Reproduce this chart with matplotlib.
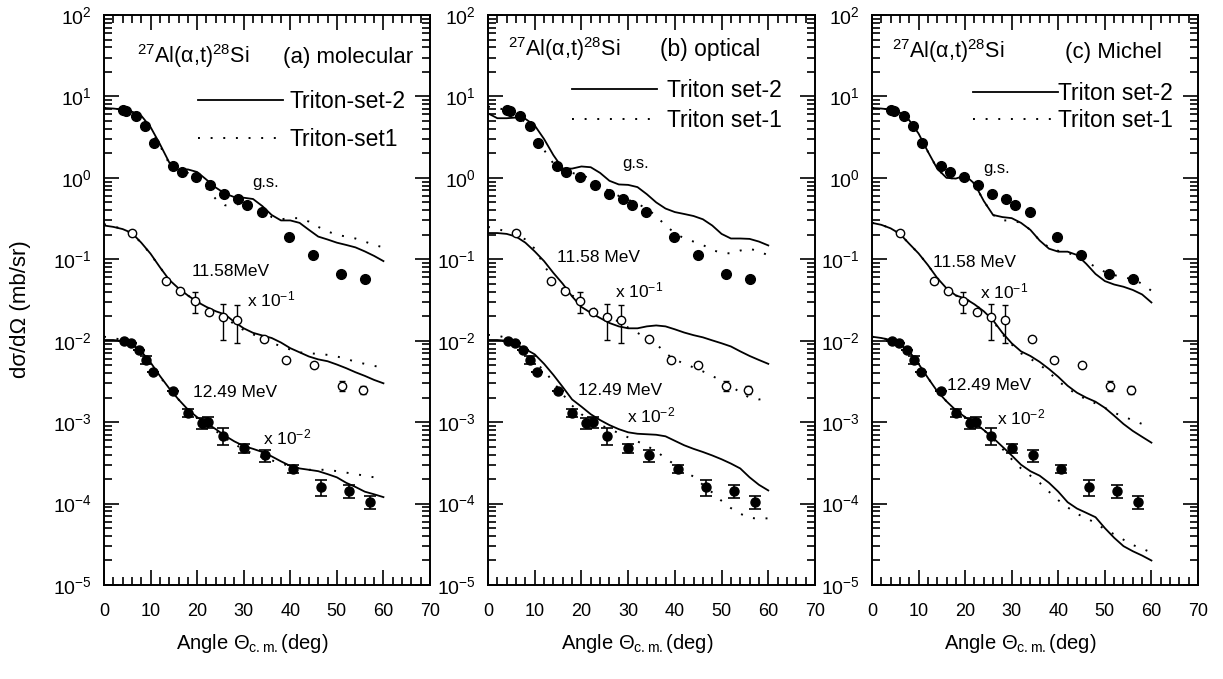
import matplotlib
matplotlib.use("Agg")
import matplotlib.pyplot as plt
from matplotlib.ticker import MultipleLocator, LogLocator, NullFormatter
from matplotlib.lines import Line2D

plt.rcParams['font.family'] = ['Liberation Sans', 'DejaVu Sans']
plt.rcParams['mathtext.fontset'] = 'custom'
plt.rcParams['mathtext.rm'] = 'Liberation Sans'
plt.rcParams['mathtext.it'] = 'Liberation Sans:italic'
plt.rcParams['mathtext.bf'] = 'Liberation Sans:bold'
plt.rcParams['mathtext.sf'] = 'Liberation Sans'

# ---------------- experimental data ----------------
gs_ang = [4.0, 4.8, 6.9, 8.9, 10.8, 14.8, 16.8, 19.8, 22.8, 25.8, 28.8, 30.8, 33.9, 39.8, 44.9, 50.9, 56.0]
gs_val = [6.9, 6.7, 5.8, 4.3, 2.65, 1.40, 1.17, 1.02, 0.81, 0.63, 0.55, 0.47, 0.38, 0.19, 0.114, 0.066, 0.058]

e1158_ang = [6.0, 13.4, 16.4, 19.6, 22.5, 25.5, 28.5, 34.4, 39.1, 45.0, 51.0, 55.6]
e1158_val = [0.21, 0.054, 0.041, 0.031, 0.0223, 0.0195, 0.018, 0.0106, 0.0058, 0.0051, 0.0028, 0.0025]
e1158_lo = [0, 0, 0, 0.009, 0, 0.0093, 0.0087, 0, 0, 0, 0.0004, 0.0003]
e1158_hi = [0, 0, 0, 0.009, 0, 0.0085, 0.0095, 0, 0, 0, 0.0004, 0.0003]

e1249_ang = [4.3, 5.8, 7.5, 9.0, 10.5, 14.9, 18.0, 21.0, 22.4, 25.5, 30.0, 34.5, 40.6, 46.6, 52.6, 57.1]
e1249_val = [0.0100, 0.0093, 0.0078, 0.0058, 0.0041, 0.0024, 0.0013, 0.00098, 0.0010, 0.00068,
             0.00048, 0.00039, 0.000266, 0.000158, 0.000142, 0.000105]
e1249_err = [0, 0, 0, 0.0006, 0, 0, 0.00013, 0.00015, 0.00015, 0.00016,
             0.00006, 0.00007, 0.00003, 0.000035, 0.000025, 0.00002]

# ---------------- calculated curves ----------------
curve_ang = [0, 2, 4, 6, 8, 10, 12, 14, 16, 18, 20, 22, 24, 26, 28, 30,
             32, 34, 36, 38, 40, 42, 44, 46, 48, 50, 52, 54, 56, 58, 60]

# (a) molecular
a_gs_set2 = [7.2, 7.1, 6.9, 6.5, 5.8, 4.2, 2.6, 1.55, 1.25, 1.27, 1.18, 0.95, 0.76, 0.64, 0.58, 0.57,
             0.55, 0.45, 0.35, 0.30, 0.30, 0.28, 0.23, 0.19, 0.175, 0.16, 0.15, 0.14, 0.125, 0.11, 0.095]
a_gs_set1 = [7.2, 7.1, 6.9, 6.4, 5.6, 4.0, 2.5, 1.5, 1.2, 1.15, 1.0, 0.75, 0.55, 0.46, 0.46, 0.50,
             0.48, 0.40, 0.33, 0.31, 0.32, 0.32, 0.29, 0.25, 0.22, 0.20, 0.19, 0.18, 0.165, 0.15, 0.14]
a_1158_set2 = [0.26, 0.25, 0.235, 0.21, 0.16, 0.117, 0.08, 0.056, 0.044, 0.036, 0.030, 0.026, 0.023, 0.021, 0.017, 0.0142,
               0.0125, 0.0116, 0.0108, 0.0095, 0.0081, 0.0072, 0.0064, 0.0059, 0.0056, 0.0051, 0.0046, 0.0041, 0.0037, 0.0033, 0.0030]
a_1158_set1 = [0.27, 0.255, 0.235, 0.205, 0.16, 0.115, 0.08, 0.056, 0.044, 0.036, 0.030, 0.026, 0.022, 0.019, 0.016, 0.0135,
               0.012, 0.0105, 0.0095, 0.0085, 0.0078, 0.0072, 0.0070, 0.0069, 0.0067, 0.0064, 0.006, 0.0055, 0.0052, 0.0049, 0.0047]
a_1249_set2 = [0.0102, 0.0102, 0.0099, 0.0090, 0.0074, 0.0054, 0.0037, 0.0026, 0.0019, 0.00143, 0.00115, 0.00097, 0.00082, 0.00068, 0.00058, 0.00051,
               0.00047, 0.00043, 0.00038, 0.00033, 0.00029, 0.00027, 0.00026, 0.00025, 0.00023, 0.00021, 0.00018, 0.00016, 0.00014, 0.00013, 0.00012]
a_1249_set1 = [0.0112, 0.0108, 0.0102, 0.0090, 0.0073, 0.0053, 0.0036, 0.0026, 0.0019, 0.00142, 0.00112, 0.00094, 0.00078, 0.00064, 0.00054, 0.00046,
               0.00041, 0.00037, 0.00034, 0.00031, 0.00029, 0.00027, 0.00026, 0.00026, 0.00026, 0.00025, 0.00024, 0.00023, 0.00022, 0.00021, 0.0002]

# (b) optical
b_gs_set2 = [6.2, 5.4, 5.4, 5.5, 5.3, 4.4, 3.0, 1.9, 1.3, 1.3, 1.38, 1.35, 1.15, 0.92, 0.83, 0.82,
             0.77, 0.63, 0.50, 0.42, 0.38, 0.36, 0.34, 0.31, 0.26, 0.205, 0.18, 0.18, 0.178, 0.165, 0.148]
b_gs_set1 = [7.5, 7.2, 6.8, 6.0, 4.8, 3.4, 2.2, 1.5, 1.2, 1.15, 1.08, 0.98, 0.82, 0.68, 0.60, 0.54,
             0.48, 0.42, 0.34, 0.26, 0.21, 0.18, 0.165, 0.15, 0.13, 0.12, 0.118, 0.128, 0.135, 0.125, 0.112]
b_1158_set2 = [0.21, 0.21, 0.205, 0.19, 0.16, 0.125, 0.095, 0.068, 0.05, 0.035, 0.026, 0.022, 0.019, 0.0165, 0.015, 0.0142,
               0.0142, 0.015, 0.0154, 0.015, 0.0138, 0.0126, 0.0117, 0.011, 0.0101, 0.0093, 0.0085, 0.0074, 0.0065, 0.0058, 0.0052]
b_1158_set1 = [0.25, 0.235, 0.22, 0.205, 0.175, 0.135, 0.085, 0.055, 0.043, 0.036, 0.031, 0.026, 0.023, 0.020, 0.017, 0.0145,
               0.0125, 0.0107, 0.0092, 0.0070, 0.0059, 0.0052, 0.0047, 0.0042, 0.0037, 0.0032, 0.0028, 0.0023, 0.0020, 0.0019, 0.00195]
b_1249_set2 = [0.0102, 0.0102, 0.0100, 0.0090, 0.0079, 0.0068, 0.0052, 0.0038, 0.0027, 0.0019, 0.00155, 0.00125, 0.00106, 0.00092, 0.00082, 0.00075,
               0.00072, 0.00071, 0.0007, 0.00067, 0.00059, 0.00052, 0.00047, 0.00043, 0.00039, 0.00035, 0.00031, 0.00027, 0.00021, 0.00017, 0.000145]
b_1249_set1 = [0.0118, 0.0116, 0.0108, 0.0093, 0.0073, 0.0055, 0.0043, 0.0031, 0.0022, 0.0016, 0.00125, 0.00105, 0.00092, 0.00083, 0.00073, 0.00065,
               0.00058, 0.00051, 0.00044, 0.00036, 0.00030, 0.00025, 0.000214, 0.00017, 0.000137, 0.000108, 0.000088, 0.000075, 0.000067, 0.000065, 0.000066]

# (c) Michel
c_gs_set2 = [7.2, 7.1, 6.9, 6.3, 5.1, 3.5, 2.1, 1.3, 1.0, 0.98, 1.07, 0.85, 0.52, 0.35, 0.33, 0.32,
             0.28, 0.23, 0.17, 0.135, 0.124, 0.124, 0.113, 0.088, 0.066, 0.054, 0.049, 0.046, 0.042, 0.037, 0.0295]
c_gs_set1 = [7.2, 7.1, 6.9, 6.3, 5.1, 3.5, 2.1, 1.3, 1.0, 0.98, 1.05, 0.84, 0.52, 0.35, 0.30, 0.30,
             0.28, 0.23, 0.17, 0.14, 0.127, 0.12, 0.11, 0.095, 0.08, 0.07, 0.064, 0.06, 0.057, 0.05, 0.041]
c_1158_set2 = [0.28, 0.265, 0.24, 0.205, 0.155, 0.118, 0.085, 0.059, 0.044, 0.036, 0.033, 0.028, 0.023, 0.0178, 0.0125, 0.0093,
               0.0074, 0.0065, 0.0055, 0.0045, 0.0036, 0.0028, 0.0023, 0.0020, 0.00178, 0.0015, 0.0012, 0.00095, 0.00078, 0.00066, 0.00056]
c_1158_set1 = [0.28, 0.265, 0.24, 0.205, 0.155, 0.118, 0.085, 0.059, 0.044, 0.036, 0.033, 0.028, 0.023, 0.0175, 0.012, 0.0090,
               0.0070, 0.0060, 0.0051, 0.0041, 0.0032, 0.0026, 0.0022, 0.0019, 0.0017, 0.0015, 0.0013, 0.00118, 0.00105, 0.00095, 0.00086]
c_1249_set2 = [0.0112, 0.0108, 0.0102, 0.0090, 0.0074, 0.0052, 0.0035, 0.0024, 0.0018, 0.0014, 0.00115, 0.00098, 0.0008, 0.00064, 0.0005, 0.00039,
               0.0003, 0.00025, 0.00022, 0.00018, 0.00014, 0.000104, 0.000087, 0.000077, 0.000068, 0.00005, 0.000038, 0.00003, 0.000026, 0.000023, 0.00002]
c_1249_set1 = [0.0112, 0.0108, 0.0102, 0.0090, 0.0074, 0.0052, 0.0035, 0.0024, 0.0018, 0.0014, 0.00115, 0.00098, 0.0008, 0.00062, 0.00047, 0.00035,
               0.00027, 0.00022, 0.00018, 0.00014, 0.00011, 0.00009, 0.000075, 0.000066, 0.000058, 0.000048, 0.000042, 0.000036, 0.000031, 0.000028, 0.000025]

panel_titles = ["(a) molecular", "(b) optical", "(c) Michel"]
legend_labels = [["Triton-set-2", "Triton-set1"],
                 ["Triton set-2", "Triton set-1"],
                 ["Triton set-2", "Triton set-1"]]
reaction = r"$^{27}$Al(α,t)$^{28}$Si"
x_ticks = [0, 10, 20, 30, 40, 50, 60, 70]

panels = [
    (a_gs_set2, a_gs_set1, a_1158_set2, a_1158_set1, a_1249_set2, a_1249_set1),
    (b_gs_set2, b_gs_set1, b_1158_set2, b_1158_set1, b_1249_set2, b_1249_set1),
    (c_gs_set2, c_gs_set1, c_1158_set2, c_1158_set1, c_1249_set2, c_1249_set1),
]

# layout (figure fractions)
W, H = 1223, 679
ax_lefts = [104, 488, 872]
ax_w = [326, 327, 326]
ax_bottom = (H - 585) / H
ax_h = 570 / H

# text positions in axes fractions
react_pos = [(0.101, 0.916), (0.061, 0.928), (0.061, 0.925)]
title_pos = [(0.549, 0.916), (0.526, 0.928), (0.592, 0.925)]
title_size = [16, 16.5, 16]
gs_pos = [(0.454, 0.698), (0.41, 0.732), (0.34, 0.723)]
m1158_pos = [(0.27, 0.542), (0.211, 0.567), (0.187, 0.558)]
m1158_txt = ["11.58MeV", "11.58 MeV", "11.58 MeV"]
x1_pos = [(0.439, 0.489), (0.388, 0.504), (0.331, 0.502)]
m1249_pos = [(0.273, 0.33), (0.275, 0.333), (0.23, 0.342)]
x2_pos = [(0.488, 0.246), (0.425, 0.286), (0.383, 0.282)]
leg_anchor = [(0.288, 0.869), (0.257, 0.888), (0.310, 0.882)]
leg_spacing = [0.68, 0.3, 0.18]
leg_textpad = [0.3, 0.45, 0.02]

fig = plt.figure(figsize=(W / 100, H / 100), dpi=100)

solid_kw = dict(color='black', lw=1.3, ls='-')
dot_kw = dict(color='black', lw=1.4, ls=(0, (1.0, 5.5)))

for i, curves in enumerate(panels):
    ax = fig.add_axes([ax_lefts[i] / W, ax_bottom, ax_w[i] / W, ax_h])
    ax.set_yscale('log')
    ax.set_xlim(0, 70)
    ax.set_ylim(1e-5, 1e2)
    gs2, gs1, m2, m1, n2, n1 = curves
    for yv in (gs2, m2, n2):
        ax.plot(curve_ang, yv, **solid_kw)
    for yv in (gs1, m1, n1):
        ax.plot(curve_ang, yv, **dot_kw)

    # experimental data
    ax.plot(gs_ang, gs_val, 'o', color='black', ms=7, zorder=5)
    ax.errorbar(e1158_ang, e1158_val, yerr=[e1158_lo, e1158_hi], fmt='o', ms=6,
                mfc='white', mec='black', mew=1.0, ecolor='black', elinewidth=1.0,
                capsize=2, zorder=5)
    ax.errorbar(e1249_ang, e1249_val, yerr=e1249_err, fmt='o', ms=6.5,
                color='black', ecolor='black', elinewidth=1.2, capsize=4, capthick=1.2, zorder=5)

    # ticks
    ax.xaxis.set_major_locator(MultipleLocator(10))
    ax.xaxis.set_minor_locator(MultipleLocator(2))
    ax.yaxis.set_major_locator(LogLocator(base=10, numticks=20))
    ax.yaxis.set_minor_locator(LogLocator(base=10, subs=range(2, 10), numticks=100))
    ax.yaxis.set_minor_formatter(NullFormatter())
    ax.tick_params(which='both', direction='in', top=True, right=True, width=1.2)
    ax.tick_params(which='major', length=11)
    ax.tick_params(which='minor', length=6)
    ax.tick_params(axis='x', which='major', pad=13, labelsize=13)
    ax.tick_params(axis='y', which='major', pad=9, labelsize=14)
    ax.set_xticks(x_ticks)
    for sp in ax.spines.values():
        sp.set_linewidth(1.4)

    ax.set_xlabel(r"Angle $\Theta_{\rm c.m.}$(deg)", fontsize=14.5)
    ax.xaxis.set_label_coords(0.455, -0.082)

    # annotations
    ax.text(*react_pos[i], reaction, transform=ax.transAxes, fontsize=15.5, va='baseline', ha='left')
    ax.text(*title_pos[i], panel_titles[i], transform=ax.transAxes, fontsize=title_size[i],
            va='baseline', ha='left')
    ax.text(*gs_pos[i], "g.s.", transform=ax.transAxes, fontsize=12, va='baseline', ha='left')
    ax.text(*m1158_pos[i], m1158_txt[i], transform=ax.transAxes, fontsize=12.5, va='baseline', ha='left')
    ax.text(*x1_pos[i], r"x 10$^{-1}$", transform=ax.transAxes, fontsize=12.5, va='baseline', ha='left')
    ax.text(*m1249_pos[i], "12.49 MeV", transform=ax.transAxes, fontsize=12.5, va='baseline', ha='left')
    ax.text(*x2_pos[i], r"x 10$^{-2}$", transform=ax.transAxes, fontsize=12.5, va='baseline', ha='left')

    handles = [Line2D([], [], **solid_kw), Line2D([], [], **dot_kw)]
    ax.legend(handles, legend_labels[i], loc='upper left', bbox_to_anchor=leg_anchor[i],
              frameon=False, fontsize=16.5, handlelength=3.7, handletextpad=leg_textpad[i],
              labelspacing=leg_spacing[i], borderpad=0, borderaxespad=0)

fig.text(21 / W, 1 - 309 / H, "dσ/dΩ (mb/sr)", rotation=90, fontsize=16,
         ha='center', va='center')

fig.savefig("out.png", dpi=100)
